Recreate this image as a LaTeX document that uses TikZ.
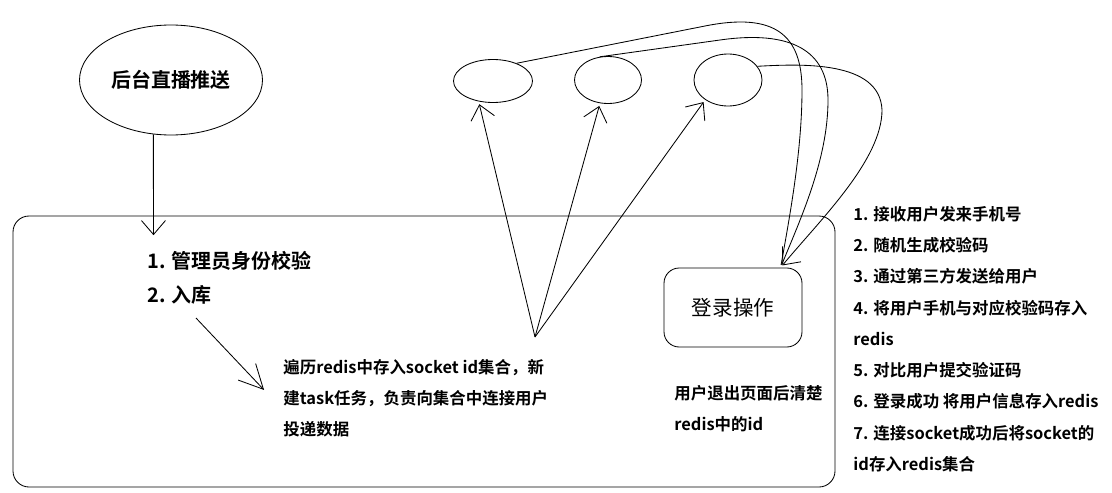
\documentclass[tikz,border=0pt]{standalone}
\usepackage{fontspec}
\setmainfont{Noto Sans CJK SC}[BoldFont={Noto Sans CJK SC Bold}]
\usepackage{tikz}
\usetikzlibrary{positioning}
\usetikzlibrary{shapes.geometric}
\usetikzlibrary{arrows.meta}
\newcommand{\pxu}{0.025cm}
\tikzset{
  bubble/.style={ellipse, draw, inner sep=0pt},
  note/.style={inner sep=0pt, anchor=north west, align=left, font=\fontsize{11.7}{22.2}\selectfont\bfseries},
  head/.style={font=\fontsize{14.2}{24.2}\selectfont\bfseries},
}
\begin{document}
\begin{tikzpicture}[x=\pxu, y=-\pxu, line width=0.6pt, >={Straight Barb[length=3.5mm,width=6mm]}, shorten >=2pt]
            % Fix the page to the picture
            \useasboundingbox (0,0) rectangle (1112,493);
            % Define the bubbles
            \node[bubble, head, minimum width=183*\pxu, minimum height=110*\pxu] (push) at (171,80) {后台直播推送};
            \node[bubble, minimum width=79*\pxu, minimum height=43*\pxu] (E1) at (493,81) {};
            \node[bubble, minimum width=67*\pxu, minimum height=47*\pxu] (E2) at (608,80) {};
            \node[bubble, minimum width=68*\pxu, minimum height=52*\pxu] (E3) at (728,80) {};
            % Define the boxes
            \node[draw, rounded corners=0.4cm, minimum width=822*\pxu, minimum height=271*\pxu] (frame) at (424,351.5) {};
            \node[draw, rounded corners=0.38cm, font=\fontsize{14.6}{24}\selectfont, minimum width=138*\pxu, minimum height=79*\pxu] (login) at (733,307.5) {登录操作};
            % Label the steps
            \node[note, head] (steps) at (147,251) {1. 管理员身份校验\\2. 入库};
            \node[note] (task) at (283,359) {遍历redis中存入socket id集合，新\\建task任务，负责向集合中连接用户\\投递数据};
            \node[note] (logout) at (674,385) {用户退出页面后清楚\\redis中的id};
            \node[note] (flow) at (853,206) {1. 接收用户发来手机号\\2. 随机生成校验码\\3. 通过第三方发送给用户\\4. 将用户手机与对应校验码存入\\redis\\5. 对比用户提交验证码\\6. 登录成功 将用户信息存入redis\\7. 连接socket成功后将socket的\\id存入redis集合};
            % Free ends
            \coordinate (entry) at (153.5,238);
            \coordinate (hub) at (535,337);
            \coordinate (dbout) at (196,318);
            \coordinate (dbin) at (266,392);

            % Paths
            \draw[->] (push.252) -- (entry); % push -> frame
            \draw[-{Straight Barb[length=6mm,width=6mm]}] (dbout) -- (dbin); % store -> task
            \draw[->] (hub) -- (E1.235); % task -> E1
            \draw[->] (hub) -- (E2.251); % task -> E2
            \draw[->] (hub) -- (E3.221); % task -> E3
            \draw (E1.37) -- (705,26) .. controls (775,12) and (802,35) .. (802,90) .. controls (802,150) and (790,215) .. (login.40); % E1 -> login
            \draw (E2.110) -- (720,40) .. controls (790,30) and (828,50) .. (828,100) .. controls (828,160) and (800,220) .. (login.40); % E2 -> login
            \draw[->] (E3.25) .. controls (800,64) and (880,60) .. (882,110) .. controls (882,160) and (820,220) .. (login.40); % E3 -> login
        \end{tikzpicture}
\end{document}
